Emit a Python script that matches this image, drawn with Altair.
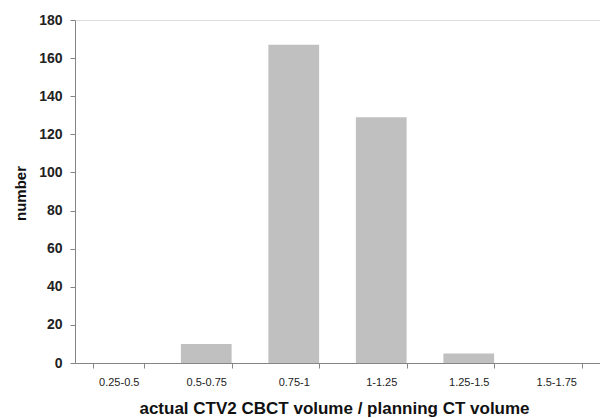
import altair as alt
import pandas as pd

# Ratio bins and the number of cases falling in each
ratio_bins = ["0.25-0.5", "0.5-0.75", "0.75-1", "1-1.25", "1.25-1.5", "1.5-1.75"]
counts = [0, 10, 167, 129, 5, 0]
y_ticks = [0, 20, 40, 60, 80, 100, 120, 140, 160, 180]

df = pd.DataFrame({"bin": ratio_bins, "count": counts})

FONT = "Liberation Sans"
AXIS_GREY = "#858585"

chart = (
    alt.Chart(df)
    .mark_bar(color="#c0c0c0")
    .encode(
        x=alt.X(
            "bin:N",
            sort=ratio_bins,
            scale=alt.Scale(paddingInner=0.42, paddingOuter=0.21),
            axis=alt.Axis(
                title="actual CTV2 CBCT volume / planning CT volume",
                labelAngle=0,
                labelFont=FONT,
                labelFontSize=11,
                labelColor="#222222",
                labelPadding=8,
                tickBand="extent",
                tickSize=5,
                tickColor=AXIS_GREY,
                domainColor=AXIS_GREY,
                titleFont=FONT,
                titleFontSize=17,
                titleFontWeight="bold",
                titleColor="#111111",
                titleX=259,
                titleY=45,
                titleBaseline="middle",
                titleAlign="center",
                grid=False,
            ),
        ),
        y=alt.Y(
            "count:Q",
            scale=alt.Scale(domain=[0, 180], nice=False),
            axis=alt.Axis(
                title="number",
                values=y_ticks,
                labelFont=FONT,
                labelFontSize=14,
                labelFontWeight="bold",
                labelColor="#222222",
                labelPadding=8,
                tickSize=5,
                tickColor=AXIS_GREY,
                domainColor=AXIS_GREY,
                titleFont=FONT,
                titleFontSize=15,
                titleFontWeight="bold",
                titleColor="#111111",
                titleAngle=-90,
                titleX=-55,
                titleY=173,
                titleAlign="center",
                titleBaseline="middle",
                grid=False,
            ),
        ),
    )
    .properties(
        width=525,
        height=343,
        autosize=alt.AutoSizeParams(type="none"),
        padding={"left": 75, "top": 20, "right": 0, "bottom": 55},
    )
    .configure_view(stroke=None)
    .configure(background="white")
)

chart.save("out.html", embed_options={"renderer": "svg", "actions": False})
